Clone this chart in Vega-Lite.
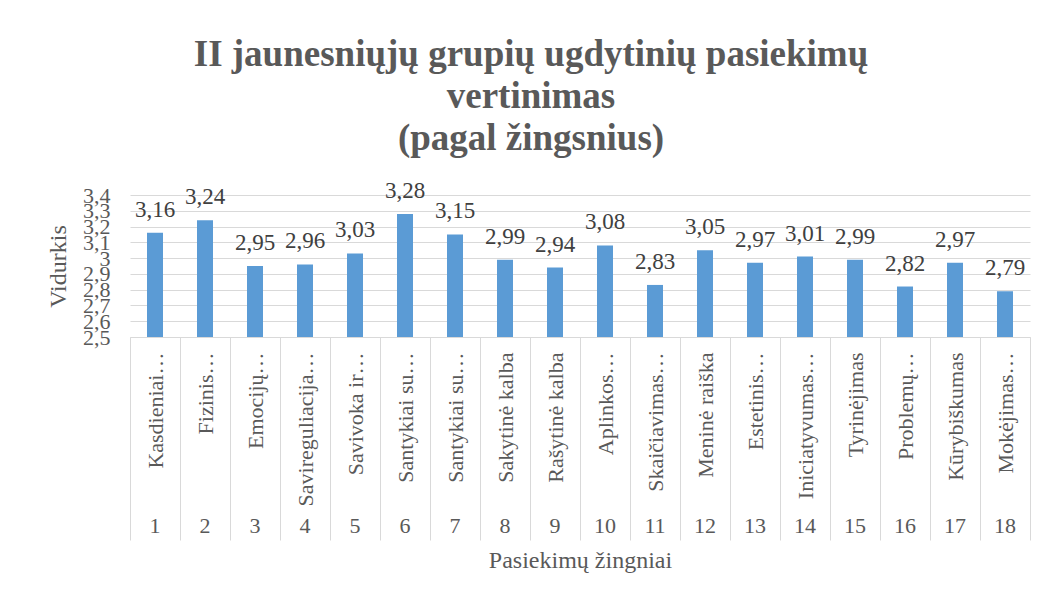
{
  "$schema": "https://vega.github.io/schema/vega-lite/v6.json",
  "width": 900,
  "height": 142,
  "autosize": "none",
  "padding": {"left": 130, "top": 195, "right": 20, "bottom": 262},
  "background": "white",
  "config": {
    "locale": {"number": {"decimal": ",", "thousands": " ", "grouping": [3], "currency": ["", " €"]}},
    "view": {"stroke": null},
    "font": "Liberation Serif"
  },
  "title": {
    "text": ["II jaunesniųjų grupių ugdytinių pasiekimų", "vertinimas", "(pagal žingsnius)"],
    "font": "Liberation Serif",
    "fontSize": 37,
    "fontWeight": "bold",
    "color": "#595959",
    "anchor": "middle",
    "frame": "group",
    "dx": -49,
    "dy": 51,
    "offset": 44,
    "lineHeight": 42,
    "baseline": "alphabetic"
  },
  "data": {
    "values": [
      {"key": "1|Kasdieniai…", "value": 3.16},
      {"key": "2|Fizinis…", "value": 3.24},
      {"key": "3|Emocijų…", "value": 2.95},
      {"key": "4|Savireguliacija…", "value": 2.96},
      {"key": "5|Savivoka ir…", "value": 3.03},
      {"key": "6|Santykiai su…", "value": 3.28},
      {"key": "7|Santykiai su…", "value": 3.15},
      {"key": "8|Sakytinė kalba", "value": 2.99},
      {"key": "9|Rašytinė kalba", "value": 2.94},
      {"key": "10|Aplinkos…", "value": 3.08},
      {"key": "11|Skaičiavimas…", "value": 2.83},
      {"key": "12|Meninė raiška", "value": 3.05},
      {"key": "13|Estetinis…", "value": 2.97},
      {"key": "14|Iniciatyvumas…", "value": 3.01},
      {"key": "15|Tyrinėjimas", "value": 2.99},
      {"key": "16|Problemų…", "value": 2.82},
      {"key": "17|Kūrybiškumas", "value": 2.97},
      {"key": "18|Mokėjimas…", "value": 2.79}
    ]
  },
  "encoding": {
    "y": {
      "field": "value",
      "type": "quantitative",
      "scale": {"domain": [2.5, 3.4], "nice": false, "zero": false},
      "axis": {
        "values": [2.5, 2.6, 2.7, 2.8, 2.9, 3, 3.1, 3.2, 3.3, 3.4],
        "format": ".2~f",
        "title": "Vidurkis",
        "titleFont": "Liberation Serif",
        "titleFontSize": 24,
        "titleFontWeight": "normal",
        "titleColor": "#595959",
        "titlePadding": 12,
        "labelFont": "Liberation Serif",
        "labelFontSize": 22,
        "labelColor": "#595959",
        "labelPadding": 20,
        "labelOverlap": false,
        "ticks": false,
        "domain": false,
        "grid": true,
        "gridColor": "#d9d9d9"
      }
    }
  },
  "layer": [
    {
      "mark": {"type": "bar", "color": "#5b9bd5", "width": {"band": 0.32}},
      "encoding": {
        "x": {
          "field": "key",
          "type": "ordinal",
          "sort": null,
          "scale": {"paddingInner": 0, "paddingOuter": 0},
          "axis": {
            "orient": "bottom",
            "title": null,
            "labelExpr": "split(datum.value, '|')[1]",
            "labelAngle": -90,
            "labelAlign": "right",
            "labelBaseline": "middle",
            "labelPadding": -188,
            "labelFont": "Liberation Serif",
            "labelFontSize": 22,
            "labelColor": "#595959",
            "labelLimit": 300,
            "labelOverlap": false,
            "ticks": true,
            "tickBand": "extent",
            "tickSize": 203,
            "tickColor": "#d9d9d9",
            "tickWidth": 1,
            "domainColor": "#d9d9d9",
            "grid": false
          }
        },
        "y2": {"datum": 2.5}
      }
    },
    {
      "mark": {"type": "text", "baseline": "alphabetic", "dy": -16, "fontSize": 23, "color": "#404040", "font": "Liberation Serif"},
      "encoding": {
        "x": {
          "field": "key",
          "type": "ordinal",
          "sort": null,
          "axis": {
            "orient": "bottom",
            "offset": 178,
            "labelExpr": "split(datum.value, '|')[0]",
            "labelAngle": 0,
            "labelAlign": "center",
            "labelBaseline": "top",
            "labelPadding": 0,
            "labelFont": "Liberation Serif",
            "labelFontSize": 22,
            "labelColor": "#595959",
            "labelOverlap": false,
            "ticks": false,
            "domain": false,
            "grid": false,
            "title": "Pasiekimų žingniai",
            "titleFont": "Liberation Serif",
            "titleFontSize": 24,
            "titleFontWeight": "normal",
            "titleColor": "#595959",
            "titlePadding": 12
          }
        },
        "text": {"field": "value", "type": "quantitative", "format": ".2f"}
      }
    }
  ],
  "resolve": {"axis": {"x": "independent"}}
}
